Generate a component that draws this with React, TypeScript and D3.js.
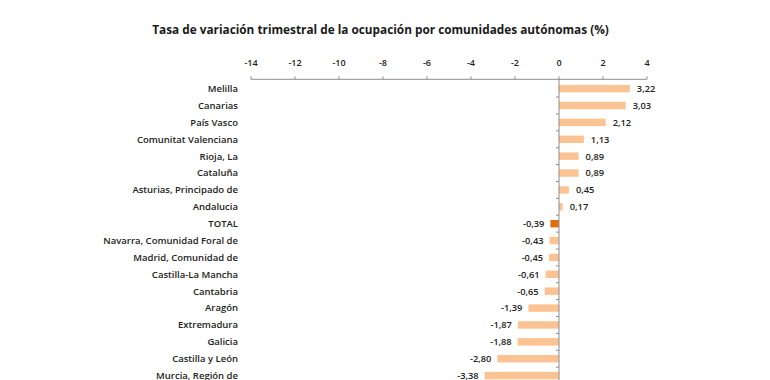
import React from "react";
import * as d3 from "d3";

const categories = [
  "Melilla",
  "Canarias",
  "País Vasco",
  "Comunitat Valenciana",
  "Rioja, La",
  "Cataluña",
  "Asturias, Principado de",
  "Andalucia",
  "TOTAL",
  "Navarra, Comunidad Foral de",
  "Madrid, Comunidad de",
  "Castilla-La Mancha",
  "Cantabria",
  "Aragón",
  "Extremadura",
  "Galicia",
  "Castilla y León",
  "Murcia, Región de",
];
const values = [3.22, 3.03, 2.12, 1.13, 0.89, 0.89, 0.45, 0.17, -0.39, -0.43, -0.45, -0.61, -0.65, -1.39, -1.87, -1.88, -2.8, -3.38];
const xTicks = [-14, -12, -10, -8, -6, -4, -2, 0, 2, 4];
const title = "Tasa de variación trimestral de la ocupación por comunidades autónomas (%)";

const W = 770;
const H = 380;
const FONT = "'Open Sans', 'Liberation Sans', sans-serif";

export default function App() {
  const x = d3.scaleLinear().domain([-14, 4]).range([251, 647]);
  const step = 16.88;
  const yTop = 80.2;
  const y = d3
    .scaleBand<string>()
    .domain(categories)
    .range([yTop, yTop + step * categories.length])
    .paddingInner(0.56)
    .paddingOuter(0.28);
  const axisY = 79.3;
  const fmt = (v: number) => v.toFixed(2).replace(".", ",");
  const x0 = x(0);

  return (
    <svg width={W} height={H} style={{ position: "absolute", left: 0, top: 0, background: "#fff" }}>
      <text x={380.5} y={34} textAnchor="middle" fontFamily={FONT} fontWeight={700} fontSize={11.8} fill="#1a1a1a">
        {title}
      </text>
      {/* top axis */}
      <line x1={x(-14)} x2={x(4)} y1={axisY} y2={axisY} stroke="#8c8c8c" strokeWidth={1} />
      {xTicks.map((t) => (
        <g key={t}>
          <line x1={x(t)} x2={x(t)} y1={axisY - 3} y2={axisY} stroke="#8c8c8c" />
          <text x={x(t)} y={66} textAnchor="middle" fontFamily={FONT} fontSize={9} fontWeight={600} fill="#222">
            {t}
          </text>
        </g>
      ))}
      {/* bars */}
      {categories.map((c, i) => {
        const v = values[i];
        const by = y(c)!;
        const bh = y.bandwidth();
        const xa = x(Math.min(0, v));
        const xb = x(Math.max(0, v));
        const cy = by + bh / 2;
        return (
          <g key={c}>
            <rect x={xa} y={by} width={xb - xa} height={bh} fill={c === "TOTAL" ? "#e46c0a" : "#fbc392"} />
            <text
              x={v >= 0 ? xb + 7 : xa - 6}
              y={cy + 3.4}
              textAnchor={v >= 0 ? "start" : "end"}
              fontFamily={FONT}
              fontSize={9.3}
              fontWeight={600}
              fill="#222"
            >
              {fmt(v)}
            </text>
            <text x={238} y={cy + 3.4} textAnchor="end" fontFamily={FONT} fontSize={9.5} fontWeight={600} fill="#222">
              {c}
            </text>
          </g>
        );
      })}
      {/* vertical axis */}
      <line x1={x0} x2={x0} y1={axisY} y2={H} stroke="#8c8c8c" />
      {categories.map((c, i) => (
        <line
          key={"t" + c}
          x1={x0 - 3}
          x2={x0}
          y1={yTop + step * (i + 1)}
          y2={yTop + step * (i + 1)}
          stroke="#8c8c8c"
        />
      ))}
    </svg>
  );
}
